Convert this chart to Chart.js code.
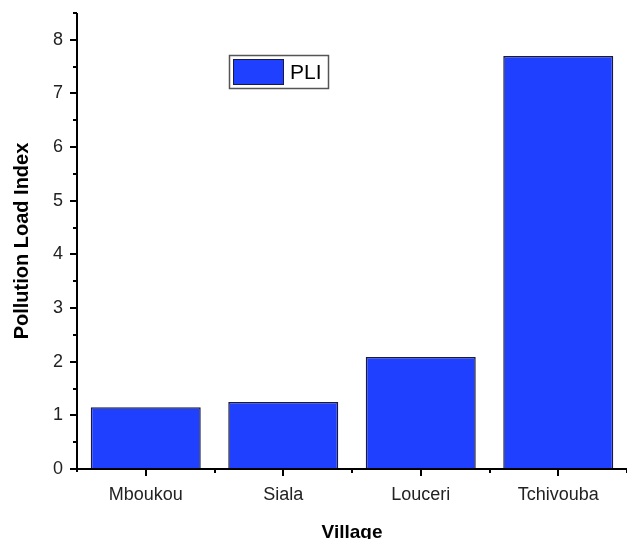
<!DOCTYPE html>
<html><head><meta charset="utf-8">
<script src="https://cdn.jsdelivr.net/npm/chart.js@4/dist/chart.umd.min.js"></script>
<style>html,body{margin:0;padding:0;background:#fff}#wrap{width:627px;height:539px;position:relative}</style>
</head><body><div id="wrap"><canvas id="c"></canvas></div>
<script>
const categories = ['Mboukou', 'Siala', 'Louceri', 'Tchivouba'];
const pliValues = [1.15, 1.25, 2.09, 7.70];
const yTickValues = [0, 1, 2, 3, 4, 5, 6, 7, 8];
const seriesLabel = 'PLI';

const FONT = "'Liberation Sans', Arial, sans-serif";

const axisTicksPlugin = {
  id: 'axisTicks',
  afterDraw(chart) {
    const ctx = chart.ctx, x = chart.scales.x, y = chart.scales.y;
    const ca = chart.chartArea;
    ctx.save();
    ctx.strokeStyle = '#000';
    ctx.lineWidth = 2;
    ctx.beginPath();
    ctx.moveTo(ca.left, ca.top); ctx.lineTo(ca.left, ca.bottom + 3);
    ctx.moveTo(ca.left - 1, ca.bottom); ctx.lineTo(ca.right, ca.bottom);
    for (let v = 0; v <= y.max + 1e-9; v += 0.5) {
      const py = Math.round(y.getPixelForValue(v));
      const major = Math.abs(v - Math.round(v)) < 1e-6;
      ctx.moveTo(ca.left, py); ctx.lineTo(ca.left - (major ? 7 : 4), py);
    }
    for (let i = 0; i < categories.length; i++) {
      const px = Math.round(x.getPixelForValue(i));
      ctx.moveTo(px, ca.bottom); ctx.lineTo(px, ca.bottom + 7);
      const pb = Math.round(x.getPixelForValue(i + 0.5));
      ctx.moveTo(pb, ca.bottom); ctx.lineTo(pb, ca.bottom + 4);
    }
    ctx.stroke();
    ctx.restore();
  }
};

const legendPlugin = {
  id: 'boxLegend',
  afterDraw(chart) {
    const ctx = chart.ctx;
    const ds = chart.data.datasets[0];
    ctx.save();
    ctx.strokeStyle = '#555';
    ctx.lineWidth = 1.5;
    ctx.fillStyle = '#fff';
    ctx.fillRect(229.5, 55.5, 99, 33);
    ctx.strokeRect(229.5, 55.5, 99, 33);
    ctx.fillStyle = ds.backgroundColor;
    ctx.fillRect(233.5, 59.5, 50, 25);
    ctx.strokeStyle = ds.borderColor;
    ctx.lineWidth = 1;
    ctx.strokeRect(233.5, 59.5, 50, 25);
    ctx.fillStyle = '#000';
    ctx.font = "21px " + FONT;
    ctx.textBaseline = 'middle';
    ctx.fillText(ds.label, 290, 73);
    ctx.restore();
  }
};

new Chart(document.getElementById('c'), {
  type: 'bar',
  data: {
    labels: categories,
    datasets: [{
      label: seriesLabel,
      data: pliValues,
      backgroundColor: '#2040FF',
      borderColor: '#1a1a40',
      borderWidth: 1.5,
      barPercentage: 0.8,
      categoryPercentage: 1.0
    }]
  },
  options: {
    responsive: true,
    maintainAspectRatio: false,
    animation: false,
    layout: { padding: { top: 13, right: 0, left: 0, bottom: 0 } },
    plugins: { legend: { display: false }, tooltip: { enabled: false } },
    scales: {
      x: {
        grid: { display: false, drawTicks: false },
        border: { display: false },
        ticks: { color: '#222', font: { family: FONT, size: 18 }, padding: 15, maxRotation: 0 },
        title: { display: true, text: 'Village', color: '#000', font: { family: FONT, size: 19, weight: 'bold' }, padding: { top: 10, bottom: -5 } },
        afterFit(s) { s.height = 70; s.paddingLeft = 0; s.paddingRight = 0; }
      },
      y: {
        min: 0, max: 8.5,
        grid: { display: false, drawTicks: false },
        border: { display: false },
        afterBuildTicks(s) { s.ticks = yTickValues.map(v => ({ value: v })); },
        ticks: { color: '#222', font: { family: FONT, size: 18 }, padding: 14, autoSkip: false },
        title: { display: true, text: 'Pollution Load Index', color: '#000', font: { family: FONT, size: 20, weight: 'bold' }, padding: { top: 10, bottom: 0 } },
        afterFit(s) { s.width = 77; s.paddingTop = 0; s.paddingBottom = 0; }
      }
    }
  },
  plugins: [axisTicksPlugin, legendPlugin]
});
</script></body></html>
